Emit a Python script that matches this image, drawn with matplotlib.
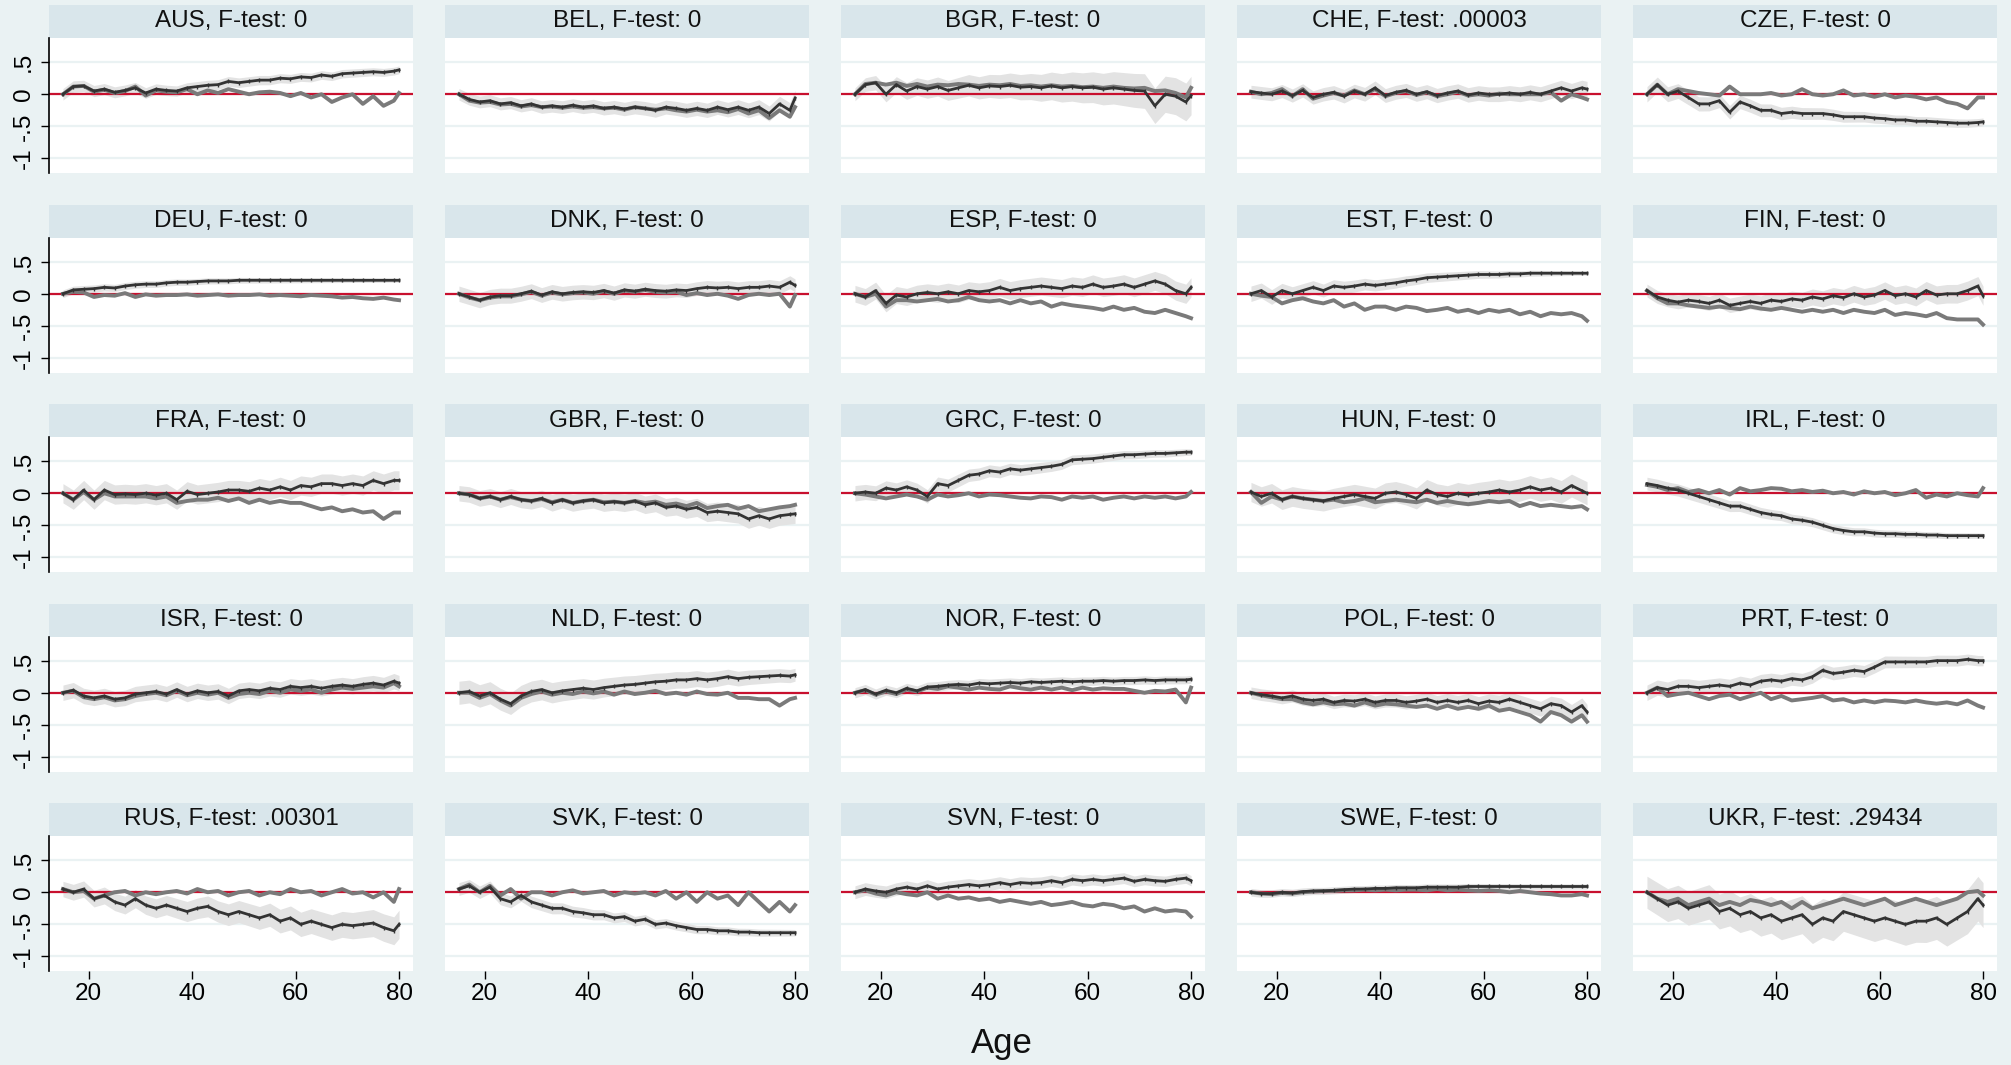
import numpy as np
import matplotlib
matplotlib.use('Agg')
import matplotlib.pyplot as plt

plt.rcParams['font.family'] = ['Liberation Sans', 'DejaVu Sans']

# ---------------- data ----------------
ages = list(range(15, 80, 2)) + [80]

countries = ['AUS', 'BEL', 'BGR', 'CHE', 'CZE',
             'DEU', 'DNK', 'ESP', 'EST', 'FIN',
             'FRA', 'GBR', 'GRC', 'HUN', 'IRL',
             'ISR', 'NLD', 'NOR', 'POL', 'PRT',
             'RUS', 'SVK', 'SVN', 'SWE', 'UKR']
ftest = ['0', '0', '0', '.00003', '0',
         '0', '0', '0', '0', '0',
         '0', '0', '0', '0', '0',
         '0', '0', '0', '0', '0',
         '.00301', '0', '0', '0', '.29434']

aus_d = [0, .12, .13, .05, .08, .03, .06, .1, .02, .08, .06, .05, .1, .12, .14, .15, .2, .18, .2, .22, .22, .25, .24, .27, .26, .3, .28, .32, .33, .34, .35, .34, .36, .38]
aus_g = [0, .12, .13, .04, .07, .02, .05, .12, -.02, .06, .04, .03, .08, .0, .06, .02, .08, .04, .0, .03, .04, .02, -.03, .02, -.05, .0, -.12, -.05, 0, -.15, -.03, -.18, -.1, .02]
bel_d = [0, -.08, -.12, -.1, -.15, -.13, -.18, -.15, -.2, -.18, -.2, -.17, -.2, -.18, -.22, -.2, -.23, -.2, -.22, -.25, -.2, -.22, -.25, -.22, -.25, -.2, -.24, -.2, -.25, -.2, -.3, -.15, -.25, -.06]
bel_g = [0, -.1, -.13, -.12, -.16, -.15, -.19, -.17, -.2, -.19, -.21, -.19, -.21, -.2, -.22, -.21, -.24, -.2, -.22, -.24, -.22, -.25, -.27, -.24, -.27, -.25, -.28, -.23, -.3, -.25, -.37, -.25, -.35, -.2]
bgr_d = [0, .15, .18, .0, .15, .05, .12, .08, .12, .06, .1, .14, .1, .13, .12, .14, .11, .12, .1, .13, .1, .12, .1, .11, .08, .1, .08, .06, .05, -.18, .0, -.03, -.12, -.02]
bgr_g = [0, .16, .18, .15, .18, .13, .16, .12, .15, .14, .16, .15, .13, .15, .14, .16, .13, .14, .12, .14, .12, .13, .11, .12, .1, .12, .1, .09, .1, .05, .06, .02, -.05, .1]
che_d = [.04, .02, .0, .05, -.02, .06, -.05, .0, .03, -.03, .05, .0, .1, -.02, .03, .06, .0, .04, -.02, .02, .05, -.01, .02, .0, .0, .02, .0, .03, .0, .05, .1, .05, .1, .08]
che_g = [.04, .0, .02, .08, -.03, .08, -.07, -.02, .02, -.02, .06, .0, .08, -.03, .02, .05, -.01, .03, -.03, .0, .04, -.02, .0, -.02, .01, .0, .0, .0, .0, .03, -.1, .0, -.05, -.08]
cze_d = [0, .15, .0, .05, -.05, -.15, -.15, -.1, -.28, -.12, -.18, -.25, -.25, -.3, -.28, -.3, -.3, -.3, -.32, -.35, -.35, -.35, -.37, -.38, -.4, -.4, -.42, -.42, -.43, -.44, -.45, -.45, -.44, -.43]
cze_g = [0, .15, .0, .08, .05, .02, .0, -.02, .12, .0, .0, .0, .02, -.02, .0, .08, .0, -.02, .0, .06, -.02, .0, -.04, .0, -.05, -.02, -.04, -.08, -.05, -.12, -.15, -.22, -.05, -.05]
deu_d = [0, .06, .07, .08, .1, .09, .12, .14, .15, .15, .17, .18, .18, .19, .2, .2, .2, .21, .21, .21, .21, .21, .21, .21, .21, .21, .21, .21, .21, .21, .21, .21, .21, .21]
deu_g = [0, .03, .02, -.05, -.02, -.03, .01, -.05, -.01, -.03, -.02, -.02, -.01, -.03, -.02, -.01, -.03, -.02, -.02, -.01, -.03, -.02, -.03, -.04, -.02, -.03, -.04, -.06, -.05, -.07, -.08, -.06, -.09, -.1]
dnk_d = [0, -.05, -.1, -.05, -.03, -.03, .0, .04, -.02, .03, .0, .02, .03, .02, .05, .01, .06, .04, .07, .05, .04, .06, .05, .08, .1, .09, .1, .08, .1, .1, .12, .1, .18, .13]
dnk_g = [0, -.06, -.1, -.06, -.04, -.04, -.01, .03, -.03, .02, -.01, .01, .02, .0, .04, .0, .05, .03, .06, .03, .02, .03, -.02, .01, -.02, .0, -.03, -.08, -.02, .0, -.02, .0, -.2, -.02]
esp_d = [0, -.05, .05, -.15, -.02, -.05, .0, .02, .0, .03, .0, .05, .03, .05, .1, .05, .08, .1, .12, .1, .08, .12, .1, .15, .1, .12, .15, .1, .15, .2, .15, .05, .0, .1]
esp_g = [0, -.05, .0, -.2, -.1, -.1, -.12, -.1, -.08, -.12, -.1, -.05, -.1, -.12, -.1, -.15, -.1, -.15, -.12, -.2, -.15, -.18, -.2, -.22, -.25, -.2, -.25, -.22, -.28, -.3, -.25, -.3, -.35, -.38]
est_d = [0, .05, -.05, .05, .0, .05, .1, .05, .12, .1, .12, .15, .13, .15, .17, .2, .22, .25, .26, .27, .28, .29, .3, .3, .3, .31, .31, .32, .32, .32, .32, .32, .32, .32]
est_g = [0, -.03, -.05, -.15, -.1, -.07, -.12, -.15, -.1, -.2, -.15, -.25, -.2, -.2, -.25, -.2, -.22, -.27, -.25, -.22, -.28, -.25, -.3, -.25, -.28, -.25, -.32, -.28, -.35, -.3, -.32, -.3, -.35, -.42]
fin_d = [.05, -.05, -.1, -.13, -.1, -.12, -.15, -.1, -.18, -.15, -.12, -.15, -.1, -.12, -.08, -.1, -.05, -.08, -.03, -.06, .0, -.05, -.02, .05, -.03, .0, -.05, .05, -.02, .0, .0, .05, .12, -.03]
fin_g = [.05, -.07, -.15, -.15, -.18, -.2, -.22, -.2, -.22, -.24, -.2, -.23, -.25, -.22, -.25, -.28, -.25, -.28, -.25, -.3, -.25, -.28, -.3, -.25, -.33, -.3, -.32, -.35, -.3, -.38, -.4, -.4, -.4, -.48]
fra_d = [0, -.1, .05, -.1, .05, -.02, -.01, -.02, .0, -.03, .0, -.1, .03, -.02, .0, .02, .05, .05, .03, .08, .05, .1, .05, .12, .1, .15, .15, .12, .15, .12, .2, .15, .2, .2]
fra_g = [0, -.1, .02, -.1, .0, -.05, -.05, -.05, -.05, -.08, -.05, -.15, -.12, -.1, -.1, -.07, -.12, -.08, -.15, -.1, -.15, -.12, -.15, -.15, -.2, -.25, -.22, -.28, -.25, -.3, -.28, -.4, -.3, -.3]
gbr_d = [0, -.02, -.08, -.05, -.1, -.05, -.1, -.12, -.08, -.15, -.1, -.15, -.12, -.1, -.15, -.13, -.15, -.12, -.18, -.15, -.22, -.2, -.25, -.22, -.3, -.28, -.3, -.32, -.4, -.35, -.4, -.35, -.33, -.32]
gbr_g = [0, -.02, -.08, -.05, -.1, -.06, -.1, -.12, -.09, -.14, -.1, -.15, -.12, -.1, -.14, -.13, -.15, -.12, -.15, -.13, -.18, -.16, -.2, -.15, -.23, -.2, -.18, -.24, -.2, -.28, -.25, -.22, -.2, -.18]
grc_d = [0, .02, .0, .08, .05, .1, .05, -.05, .15, .12, .2, .28, .3, .35, .33, .38, .36, .38, .4, .42, .45, .52, .53, .54, .56, .58, .6, .6, .61, .62, .62, .63, .64, .64]
grc_g = [0, -.02, -.05, -.08, -.05, -.02, -.05, -.1, -.02, -.05, -.03, .0, -.05, -.02, -.03, -.05, -.07, -.08, -.05, -.06, -.1, -.05, -.07, -.05, -.1, -.07, -.05, -.08, -.05, -.07, -.05, -.08, -.05, .02]
hun_d = [.02, -.05, .0, -.1, -.05, -.08, -.1, -.12, -.08, -.05, -.02, -.05, -.08, .0, .02, -.02, -.08, .05, -.02, -.05, .0, -.03, .0, .02, .05, .02, .05, .1, .05, .08, .02, .12, .04, .0]
hun_g = [.02, -.15, -.05, -.1, -.05, -.08, -.1, -.12, -.1, -.14, -.12, -.08, -.14, -.12, -.1, -.12, -.14, -.1, -.15, -.12, -.15, -.17, -.15, -.12, -.14, -.12, -.2, -.15, -.2, -.18, -.2, -.22, -.2, -.25]
irl_d = [.15, .12, .08, .05, .0, -.05, -.1, -.15, -.2, -.2, -.25, -.3, -.33, -.35, -.4, -.42, -.45, -.5, -.55, -.58, -.6, -.6, -.62, -.63, -.63, -.64, -.64, -.65, -.65, -.66, -.66, -.66, -.66, -.66]
irl_g = [.13, .1, .05, .08, .02, .05, .0, .05, -.02, .08, .03, .05, .08, .07, .03, .05, .02, .04, .0, .02, -.02, .03, .0, .02, -.03, .0, .05, -.07, -.02, -.05, .0, -.03, -.05, .08]
isr_d = [0, .04, -.05, -.08, -.05, -.1, -.08, -.02, .0, .02, -.02, .05, -.02, .03, .0, .02, -.05, .03, .05, .03, .07, .05, .1, .08, .1, .07, .1, .12, .1, .13, .15, .12, .18, .15]
isr_g = [0, .03, -.07, -.1, -.07, -.12, -.1, -.05, -.02, .0, -.04, .03, -.04, .0, -.03, .0, -.08, -.02, .0, -.02, .03, .0, .05, .03, .05, .0, .05, .08, .06, .08, .1, .08, .15, .1]
nld_d = [0, .02, -.05, .0, -.1, -.17, -.05, .02, .05, .0, .03, .05, .07, .05, .08, .1, .12, .13, .15, .17, .18, .2, .2, .22, .2, .22, .25, .22, .24, .25, .26, .27, .26, .28]
nld_g = [0, .0, -.08, -.02, -.12, -.2, -.08, -.02, .02, -.03, .0, -.02, .02, -.01, .02, -.03, .02, -.02, .0, .03, -.02, .0, -.03, .02, -.02, -.03, .0, -.08, -.08, -.1, -.1, -.2, -.1, -.08]
nor_d = [0, .05, -.02, .04, .0, .07, .03, .09, .1, .12, .13, .12, .15, .14, .15, .16, .15, .17, .16, .17, .18, .17, .18, .18, .19, .18, .19, .19, .2, .19, .2, .2, .2, .21]
nor_g = [0, .04, -.03, .02, -.02, .05, .02, .08, .06, .1, .08, .05, .08, .06, .05, .1, .07, .05, .08, .05, .08, .04, .08, .05, .07, .06, .06, .03, .0, .03, .02, .05, -.15, .08]
pol_d = [0, -.03, -.05, -.08, -.05, -.1, -.12, -.1, -.15, -.12, -.13, -.1, -.15, -.12, -.12, -.15, -.13, -.1, -.15, -.12, -.15, -.12, -.17, -.13, -.15, -.1, -.15, -.2, -.25, -.17, -.2, -.3, -.2, -.3]
pol_g = [0, -.04, -.07, -.1, -.1, -.15, -.18, -.15, -.18, -.17, -.2, -.15, -.2, -.17, -.18, -.2, -.22, -.2, -.25, -.2, -.25, -.22, -.25, -.2, -.28, -.25, -.3, -.35, -.45, -.3, -.35, -.45, -.35, -.45]
prt_d = [0, .08, .05, .1, .1, .08, .1, .12, .1, .15, .12, .18, .2, .18, .22, .2, .25, .35, .3, .32, .35, .33, .4, .48, .48, .48, .48, .48, .5, .5, .5, .52, .5, .5]
prt_g = [0, .08, -.05, -.02, .0, -.05, -.1, -.05, -.03, -.1, -.05, .0, -.1, -.05, -.12, -.1, -.08, -.05, -.12, -.1, -.15, -.12, -.15, -.12, -.13, -.15, -.12, -.15, -.17, -.15, -.18, -.12, -.2, -.23]
rus_d = [.05, .0, .05, -.1, -.05, -.15, -.2, -.1, -.2, -.25, -.2, -.25, -.3, -.25, -.22, -.3, -.35, -.3, -.35, -.4, -.35, -.45, -.4, -.5, -.45, -.5, -.55, -.5, -.52, -.5, -.48, -.55, -.6, -.5]
rus_g = [.05, .0, .02, -.1, -.05, .0, .02, -.05, .0, -.03, .0, .02, -.02, .05, .0, .02, -.05, .0, .02, -.05, .0, -.03, .05, .0, .02, -.05, .0, .05, -.02, .0, -.08, .0, -.15, .05]
svk_d = [.05, .1, .0, .08, -.1, -.15, -.05, -.15, -.2, -.25, -.25, -.3, -.32, -.35, -.35, -.4, -.38, -.45, -.42, -.5, -.48, -.52, -.55, -.58, -.58, -.6, -.6, -.62, -.62, -.63, -.63, -.63, -.63, -.63]
svk_g = [.05, .12, .0, .1, -.05, .05, -.1, .0, .0, -.05, .0, .03, -.02, .0, .02, -.05, .0, -.02, .0, -.05, .02, -.1, .0, -.15, .0, -.1, -.05, -.2, .0, -.15, -.3, -.15, -.3, -.2]
svn_d = [0, .05, .02, .0, .05, .08, .05, .1, .05, .08, .1, .12, .1, .12, .15, .12, .15, .14, .15, .18, .15, .2, .18, .2, .18, .2, .22, .17, .2, .18, .17, .2, .22, .18]
svn_g = [0, .03, -.02, -.05, .0, -.03, -.05, .0, -.1, -.05, -.1, -.08, -.12, -.1, -.15, -.12, -.15, -.18, -.15, -.2, -.18, -.15, -.2, -.22, -.18, -.2, -.25, -.22, -.3, -.25, -.3, -.28, -.3, -.38]
swe_d = [0, -.02, -.02, .0, -.01, .01, .02, .02, .03, .04, .05, .05, .06, .06, .07, .07, .07, .08, .08, .08, .08, .09, .09, .09, .09, .09, .09, .09, .09, .09, .09, .09, .09, .09]
swe_g = [0, -.02, -.03, -.01, -.02, .0, .01, .02, .02, .03, .03, .04, .03, .04, .03, .04, .04, .03, .05, .03, .04, .03, .02, .03, .02, .0, .02, .0, -.02, -.03, -.05, -.05, -.03, -.05]
ukr_d = [0, -.1, -.2, -.15, -.25, -.2, -.15, -.3, -.25, -.35, -.3, -.4, -.35, -.45, -.4, -.35, -.5, -.4, -.45, -.3, -.35, -.4, -.45, -.4, -.45, -.5, -.45, -.45, -.4, -.5, -.4, -.3, -.1, -.2]
ukr_g = [0, -.1, -.15, -.1, -.2, -.15, -.1, -.2, -.15, -.2, -.12, -.15, -.2, -.15, -.25, -.15, -.25, -.2, -.15, -.1, -.15, -.2, -.15, -.1, -.2, -.15, -.1, -.15, -.2, -.15, -.1, .0, .02, -.05]

dark_series = [aus_d, bel_d, bgr_d, che_d, cze_d, deu_d, dnk_d, esp_d, est_d, fin_d,
               fra_d, gbr_d, grc_d, hun_d, irl_d, isr_d, nld_d, nor_d, pol_d, prt_d,
               rus_d, svk_d, svn_d, swe_d, ukr_d]
gray_series = [aus_g, bel_g, bgr_g, che_g, cze_g, deu_g, dnk_g, esp_g, est_g, fin_g,
               fra_g, gbr_g, grc_g, hun_g, irl_g, isr_g, nld_g, nor_g, pol_g, prt_g,
               rus_g, svk_g, svn_g, swe_g, ukr_g]
# confidence band half-width (young, old) around the dark series
ci_start = [.09, .09, .1, .1, .12, .06, .12, .13, .12, .1, .15, .12, .12, .15, .1,
            .12, .18, .08, .09, .12, .12, .1, .1, .06, .25]
ci_end = [.06, .12, .3, .12, .06, .03, .1, .15, .03, .15, .15, .15, .05, .18, .04,
          .12, .1, .06, .12, .08, .22, .05, .08, .04, .35]

yticks = [-1, -.5, 0, .5]
ytick_labels = ['-1', '-.5', '0', '.5']
xticks = [20, 40, 60, 80]

# ---------------- layout ----------------
W, H = 2011, 1065
BG = '#eaf2f3'
STRIP = '#d9e6eb'
fig = plt.figure(figsize=(W / 100, H / 100), dpi=100, facecolor=BG)

col_left = 49
col_step = 396
pw = 364
row_top = 5
row_step = 199.5
strip_h = 33
ph = 135

for i, c in enumerate(countries):
    r, k = divmod(i, 5)
    x0 = col_left + col_step * k
    top = row_top + row_step * r
    # strip
    sax = fig.add_axes([x0 / W, (H - top - strip_h) / H, pw / W, strip_h / H])
    sax.set_facecolor(STRIP)
    sax.set_xticks([]); sax.set_yticks([])
    for s in sax.spines.values():
        s.set_visible(False)
    sax.text(0.5, 0.5, f'{c}, F-test: {ftest[i]}', ha='center', va='center',
             fontsize=17.5, color='#111111', transform=sax.transAxes)
    # plot
    ax = fig.add_axes([x0 / W, (H - top - strip_h - ph) / H, pw / W, ph / H])
    ax.set_facecolor('white')
    ax.set_xlim(12.3, 82.7)
    ax.set_ylim(-1.226, 0.876)
    for yv in yticks:
        ax.axhline(yv, color=BG, lw=1.6, zorder=0.5)
    d = np.array(dark_series[i])
    g = np.array(gray_series[i])
    hw = np.linspace(ci_start[i], ci_end[i], len(ages))
    ax.fill_between(ages, d - hw, d + hw, color='#e3e3e3', lw=0, zorder=1)
    ax.axhline(0, color='#c8102e', lw=1.6, zorder=2)
    ax.plot(ages, g, color='#7a7a7a', lw=2.8, zorder=3)
    ax.plot(ages, d, color='#333333', lw=2.0, zorder=4, marker='|', ms=2.5, mew=1.0)
    for s in ['top', 'right', 'bottom']:
        ax.spines[s].set_visible(False)
    if k == 0:
        ax.spines['left'].set_color('black')
        ax.spines['left'].set_linewidth(1.2)
        ax.set_yticks(yticks)
        ax.set_yticklabels(ytick_labels, rotation=90, va='center', fontsize=17.5)
        ax.tick_params(axis='y', length=6, width=1, pad=4)
    else:
        ax.spines['left'].set_visible(False)
        ax.set_yticks([])
    if r == 4:
        ax.set_xticks(xticks)
        ax.set_xticklabels([str(v) for v in xticks], fontsize=17.5)
        ax.tick_params(axis='x', length=6, width=1, pad=3)
    else:
        ax.set_xticks([])

fig.text(1002 / W, 1 - 1043 / H, 'Age', ha='center', va='center', fontsize=25, color='#111111')

fig.savefig('out.png', dpi=100, facecolor=BG)
